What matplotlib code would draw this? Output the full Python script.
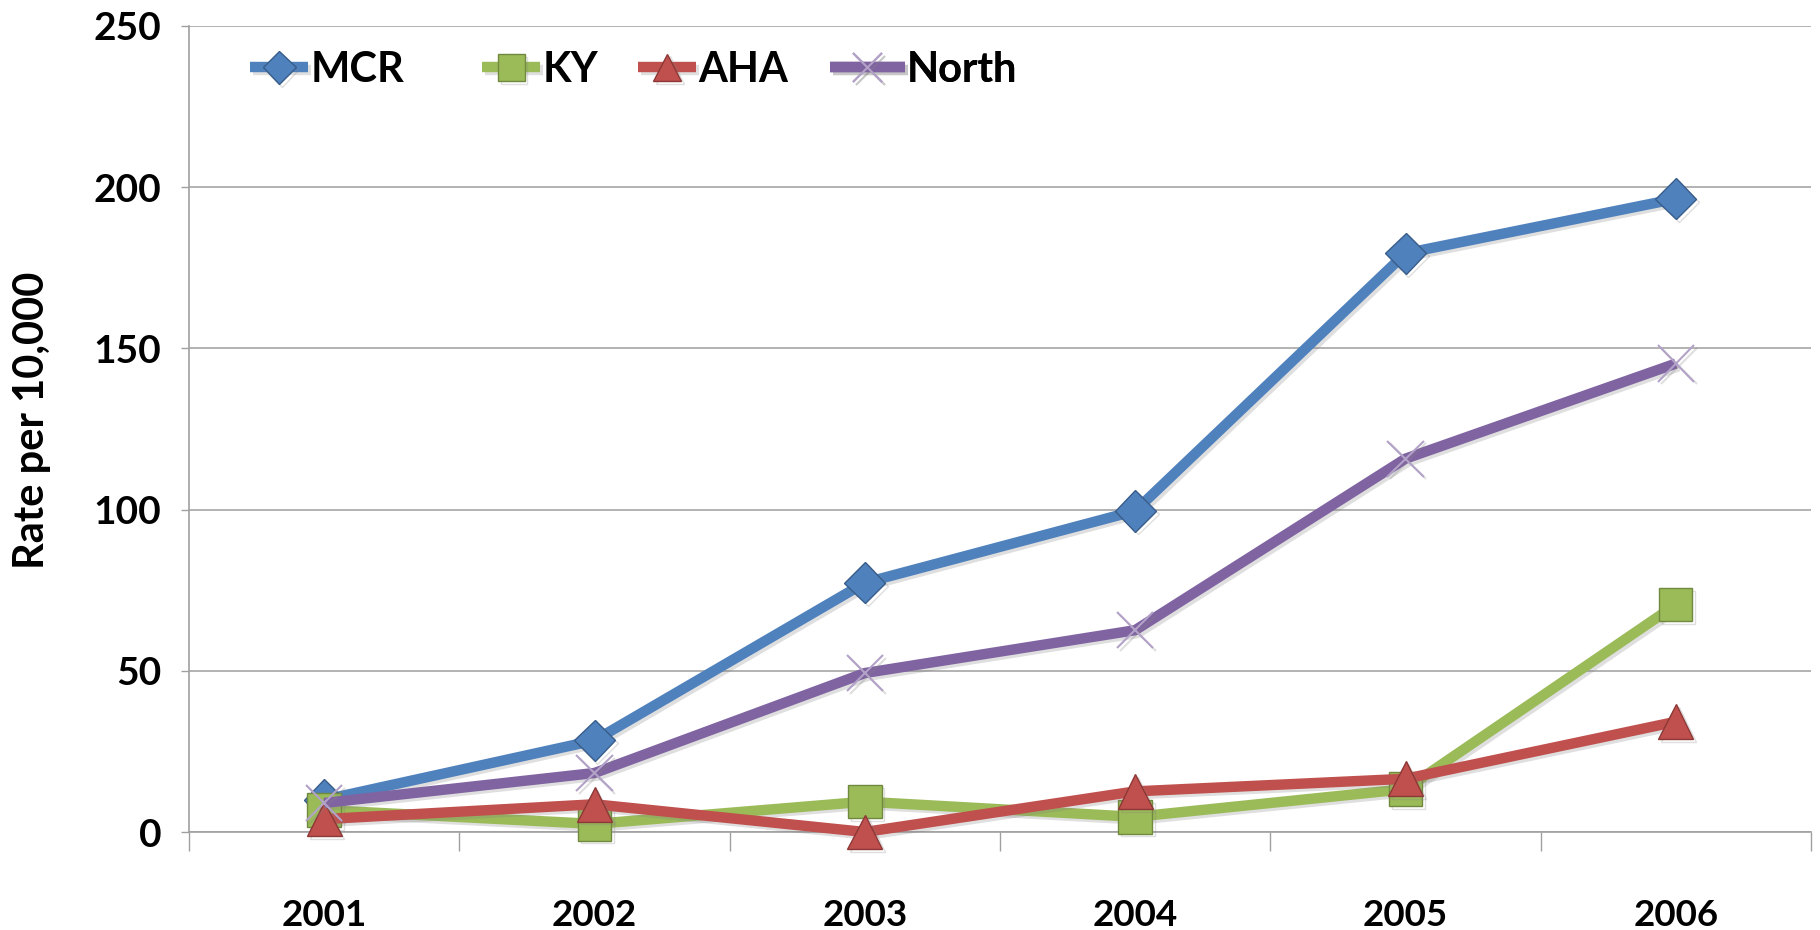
import matplotlib
matplotlib.use("Agg")
import matplotlib.pyplot as plt
import matplotlib.patheffects as pe

years = ["2001", "2002", "2003", "2004", "2005", "2006"]
mcr = [10, 28.4, 77.3, 99.6, 179.5, 196.4]
ky = [6.8, 2.5, 9.4, 4.7, 13.3, 70.5]
aha = [4.0, 8.6, 0.0, 12.6, 16.5, 34.2]
north = [9.0, 18.3, 49.3, 62.6, 115.8, 145.3]
yticks = [0, 50, 100, 150, 200, 250]

FONT = ["Lato", "DejaVu Sans"]

fig = plt.figure(figsize=(18.2, 9.3), dpi=100)
ax = fig.add_axes([189/1820, 1-832/930, (1811-189)/1820, (832-26)/930])

x = list(range(len(years)))
shadow = [pe.SimpleLineShadow(offset=(2, -2), alpha=0.25, shadow_color="gray"), pe.Normal()]

series = [
    ("MCR", mcr, "#4F81BD", "D", "#4F81BD", "#385D8A", 21, 1.0),
    ("KY", ky, "#9BBB59", "s", "#9BBB59", "#71893F", 24, 1.0),
    ("AHA", aha, "#C0504D", "^", "#C0504D", "#8C3836", 25, 1.0),
    ("North", north, "#8064A2", "x", "#B3A2C7", "#B3A2C7", 26, 1.5),
]
lines = []
for name, vals, col, mk, mfc, mec, ms, mew in series:
    ln, = ax.plot(x, vals, color=col, lw=7.5, marker=mk, markersize=ms,
                  markerfacecolor=mfc, markeredgecolor=mec, markeredgewidth=mew,
                  solid_joinstyle="round", solid_capstyle="butt", label=name,
                  path_effects=shadow, clip_on=False, zorder=3)
    lines.append(ln)

ax.set_xlim(-0.5, len(years) - 0.5)
ax.set_ylim(0, 250)
ax.set_yticks(yticks)
ax.set_yticklabels([str(v) for v in yticks], fontsize=28, fontweight="bold",
                   family=FONT)
ax.set_xticks(x)
ax.set_xticklabels(years, fontsize=26.5, fontweight="bold", family=FONT)
ax.set_xticks([i - 0.5 for i in range(len(years) + 1)], minor=True)
ax.tick_params(axis="x", which="major", length=0, pad=48)
ax.tick_params(axis="x", which="minor", length=13.5, width=1, color="#A0A0A0", direction="out")
ax.tick_params(axis="y", which="major", length=6, width=1, color="#A0A0A0", pad=14)

ax.grid(axis="y", color="#A6A6A6", lw=1.2, zorder=0)
ax.set_axisbelow(True)
for s in ["top", "right"]:
    ax.spines[s].set_visible(False)
for s in ["left", "bottom"]:
    ax.spines[s].set_color("#A0A0A0")
    ax.spines[s].set_linewidth(1.2)

ax.set_ylabel("Rate per 10,000", fontsize=30, fontweight="bold", family=FONT,
              va="center")
ax.yaxis.set_label_coords((32-189)/1622, (832-420)/806)

# legend entries placed individually (full-size pixel x of each handle start)
leg_x = [250, 482, 638, 830]
leg_len = [1.4, 1.4, 1.4, 1.8]
for ln, lx, hl in zip(lines, leg_x, leg_len):
    lg = ax.legend([ln], [ln.get_label()], loc="center left",
                   bbox_to_anchor=((lx-189)/1622, (832-70)/806),
                   frameon=False, borderaxespad=0, borderpad=0,
                   handlelength=hl, handletextpad=0.05,
                   numpoints=1, markerscale=0.8,
                   prop={"family": FONT, "weight": "bold", "size": 30})
    ax.add_artist(lg)

fig.savefig("out.png", dpi=100)
